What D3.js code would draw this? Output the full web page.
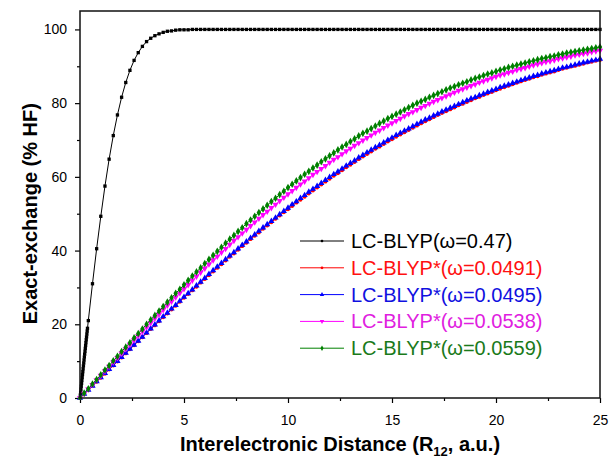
<!DOCTYPE html>
<html>
<head>
<meta charset="utf-8">
<script src="https://cdn.jsdelivr.net/npm/d3@7"></script>
<style>
  html, body { margin: 0; padding: 0; background: #fff; }
  svg { display: block; font-family: "Liberation Sans", Arial, sans-serif; }
</style>
</head>
<body>
<div id="chart"></div>
<script>
// ── Data ─────────────────────────────────────────────────────────────────
// x positions (a.u.) shared by the four LC-BLYP* curves
const xGrid = [
  0, 0.2, 0.4, 0.6, 0.8, 1, 1.2, 1.4, 1.6, 1.8,
  2, 2.2, 2.4, 2.6, 2.8, 3, 3.2, 3.4, 3.6, 3.8,
  4, 4.2, 4.4, 4.6, 4.8, 5, 5.2, 5.4, 5.6, 5.8,
  6, 6.2, 6.4, 6.6, 6.8, 7, 7.2, 7.4, 7.6, 7.8,
  8, 8.2, 8.4, 8.6, 8.8, 9, 9.2, 9.4, 9.6, 9.8,
  10, 10.2, 10.4, 10.6, 10.8, 11, 11.2, 11.4, 11.6, 11.8,
  12, 12.2, 12.4, 12.6, 12.8, 13, 13.2, 13.4, 13.6, 13.8,
  14, 14.2, 14.4, 14.6, 14.8, 15, 15.2, 15.4, 15.6, 15.8,
  16, 16.2, 16.4, 16.6, 16.8, 17, 17.2, 17.4, 17.6, 17.8,
  18, 18.2, 18.4, 18.6, 18.8, 19, 19.2, 19.4, 19.6, 19.8,
  20, 20.2, 20.4, 20.6, 20.8, 21, 21.2, 21.4, 21.6, 21.8,
  22, 22.2, 22.4, 22.6, 22.8, 23, 23.2, 23.4, 23.6, 23.8,
  24, 24.2, 24.4, 24.6, 24.8, 25,
];

// the black curve is sampled more densely near the origin
const xBlackHead = [
  0, 0.015, 0.03, 0.045, 0.06, 0.075, 0.09, 0.105, 0.12, 0.135,
  0.15, 0.165, 0.18, 0.195, 0.21, 0.225, 0.24, 0.255, 0.27, 0.285,
  0.3, 0.315, 0.33, 0.345, 0.36,
];
const xBlack = xBlackHead.concat(xGrid.slice(2));

const blackValues = [
  0, 0.8, 1.59, 2.39, 3.18, 3.98, 4.77, 5.56, 6.36, 7.15,
  7.94, 8.73, 9.52, 10.31, 11.1, 11.89, 12.67, 13.46, 14.24, 15.02,
  15.81, 16.58, 17.36, 18.14, 18.91,
  21.0, 31.0, 40.5, 49.3, 57.5, 64.8, 71.2, 76.8, 81.6, 85.6,
  88.9, 91.6, 93.7, 95.4, 96.7, 97.6, 98.3, 98.8, 99.2, 99.5,
  99.6, 99.8, 99.9, 99.9, 99.9,
  100, 100, 100, 100, 100, 100, 100, 100, 100, 100,
  100, 100, 100, 100, 100, 100, 100, 100, 100, 100,
  100, 100, 100, 100, 100, 100, 100, 100, 100, 100,
  100, 100, 100, 100, 100, 100, 100, 100, 100, 100,
  100, 100, 100, 100, 100, 100, 100, 100, 100, 100,
  100, 100, 100, 100, 100, 100, 100, 100, 100, 100,
  100, 100, 100, 100, 100, 100, 100, 100, 100, 100,
  100, 100, 100, 100, 100, 100, 100, 100, 100, 100,
  100, 100, 100, 100, 100, 100, 100, 100, 100, 100,
  100, 100, 100, 100, 100, 100, 100, 100, 100,
];

const redValues = [
  0, 1.1, 2.2, 3.3, 4.4, 5.5, 6.6, 7.7, 8.8, 9.9,
  11.0, 12.1, 13.2, 14.3, 15.4, 16.5, 17.6, 18.7, 19.7, 20.8,
  21.9, 22.9, 24.0, 25.0, 26.1, 27.2, 28.2, 29.2, 30.2, 31.3,
  32.3, 33.3, 34.3, 35.3, 36.3, 37.3, 38.3, 39.2, 40.2, 41.2,
  42.1, 43.1, 44.0, 44.9, 45.9, 46.8, 47.7, 48.6, 49.5, 50.4,
  51.2, 52.1, 53.0, 53.8, 54.6, 55.5, 56.3, 57.1, 57.9, 58.7,
  59.5, 60.3, 61.0, 61.8, 62.6, 63.3, 64.0, 64.8, 65.5, 66.2,
  66.9, 67.6, 68.2, 68.9, 69.6, 70.2, 70.9, 71.5, 72.1, 72.7,
  73.3, 73.9, 74.5, 75.1, 75.6, 76.2, 76.8, 77.3, 77.8, 78.3,
  78.8, 79.4, 79.8, 80.3, 80.8, 81.3, 81.7, 82.2, 82.6, 83.0,
  83.5, 83.9, 84.3, 84.7, 85.1, 85.5, 85.9, 86.3, 86.6, 87.0,
  87.3, 87.7, 88.0, 88.3, 88.6, 89.0, 89.3, 89.6, 89.9, 90.1,
  90.4, 90.7, 91.0, 91.2, 91.5, 91.7,
];

const blueValues = [
  0, 1.1, 2.2, 3.3, 4.5, 5.6, 6.7, 7.8, 8.9, 10.0,
  11.1, 12.2, 13.3, 14.4, 15.5, 16.6, 17.7, 18.8, 19.9, 21.0,
  22.1, 23.1, 24.2, 25.2, 26.3, 27.4, 28.4, 29.4, 30.5, 31.5,
  32.5, 33.6, 34.6, 35.6, 36.6, 37.6, 38.6, 39.5, 40.5, 41.5,
  42.4, 43.4, 44.3, 45.3, 46.2, 47.1, 48.0, 48.9, 49.8, 50.7,
  51.6, 52.5, 53.3, 54.2, 55.0, 55.9, 56.7, 57.5, 58.3, 59.1,
  59.9, 60.7, 61.4, 62.2, 63.0, 63.7, 64.4, 65.2, 65.9, 66.6,
  67.3, 68.0, 68.6, 69.3, 70.0, 70.6, 71.3, 71.9, 72.5, 73.1,
  73.7, 74.3, 74.9, 75.5, 76.0, 76.6, 77.1, 77.7, 78.2, 78.7,
  79.2, 79.7, 80.2, 80.7, 81.2, 81.6, 82.1, 82.5, 83.0, 83.4,
  83.8, 84.3, 84.7, 85.0, 85.4, 85.8, 86.2, 86.6, 86.9, 87.3,
  87.6, 88.0, 88.3, 88.6, 88.9, 89.2, 89.6, 89.8, 90.1, 90.4,
  90.7, 91.0, 91.2, 91.5, 91.7, 92.0,
];

const magentaValues = [
  0, 1.2, 2.4, 3.6, 4.9, 6.1, 7.3, 8.5, 9.7, 10.9,
  12.1, 13.3, 14.5, 15.7, 16.9, 18.0, 19.2, 20.4, 21.6, 22.7,
  23.9, 25.1, 26.2, 27.4, 28.5, 29.6, 30.7, 31.9, 33.0, 34.1,
  35.2, 36.3, 37.4, 38.4, 39.5, 40.5, 41.6, 42.7, 43.7, 44.7,
  45.7, 46.7, 47.7, 48.7, 49.7, 50.6, 51.6, 52.5, 53.5, 54.4,
  55.3, 56.2, 57.1, 58.0, 58.8, 59.7, 60.6, 61.4, 62.2, 63.0,
  63.9, 64.7, 65.4, 66.2, 67.0, 67.7, 68.5, 69.2, 69.9, 70.6,
  71.3, 72.0, 72.6, 73.3, 74.0, 74.6, 75.2, 75.8, 76.5, 77.1,
  77.6, 78.2, 78.8, 79.3, 79.9, 80.4, 80.9, 81.4, 81.9, 82.4,
  82.9, 83.4, 83.8, 84.3, 84.7, 85.1, 85.6, 86.0, 86.4, 86.8,
  87.2, 87.6, 87.9, 88.3, 88.6, 89.0, 89.3, 89.6, 90.0, 90.3,
  90.6, 90.9, 91.2, 91.4, 91.7, 92.0, 92.2, 92.5, 92.7, 93.0,
  93.2, 93.4, 93.6, 93.9, 94.1, 94.3,
];

const greenValues = [
  0, 1.3, 2.5, 3.8, 5.0, 6.3, 7.6, 8.8, 10.1, 11.3,
  12.6, 13.8, 15.0, 16.3, 17.5, 18.7, 20.0, 21.2, 22.4, 23.6,
  24.8, 26.0, 27.2, 28.4, 29.5, 30.7, 31.9, 33.1, 34.2, 35.3,
  36.5, 37.6, 38.7, 39.8, 40.9, 42.0, 43.1, 44.1, 45.2, 46.2,
  47.3, 48.3, 49.3, 50.3, 51.3, 52.3, 53.3, 54.2, 55.2, 56.1,
  57.1, 58.0, 58.9, 59.8, 60.7, 61.5, 62.4, 63.2, 64.1, 64.9,
  65.7, 66.5, 67.3, 68.1, 68.8, 69.6, 70.3, 71.1, 71.8, 72.4,
  73.1, 73.8, 74.5, 75.1, 75.8, 76.4, 77.0, 77.6, 78.2, 78.8,
  79.4, 80.0, 80.5, 81.0, 81.6, 82.1, 82.6, 83.1, 83.6, 84.1,
  84.5, 85.0, 85.4, 85.8, 86.3, 86.7, 87.1, 87.5, 87.9, 88.2,
  88.6, 89.0, 89.3, 89.7, 90.0, 90.3, 90.6, 90.9, 91.2, 91.5,
  91.8, 92.1, 92.3, 92.6, 92.8, 93.1, 93.3, 93.6, 93.8, 94.0,
  94.2, 94.4, 94.6, 94.8, 95.0, 95.2,
];

const seriesLabels = [
  "LC-BLYP(\u03C9=0.47)",
  "LC-BLYP*(\u03C9=0.0491)",
  "LC-BLYP*(\u03C9=0.0495)",
  "LC-BLYP*(\u03C9=0.0538)",
  "LC-BLYP*(\u03C9=0.0559)",
];

const xMajorTicks = [0, 5, 10, 15, 20, 25];
const xMinorTicks = [2.5, 7.5, 12.5, 17.5, 22.5];
const yMajorTicks = [0, 20, 40, 60, 80, 100];
const yMinorTicks = [10, 30, 50, 70, 90];

// ── Series setup ─────────────────────────────────────────────────────────
const series = [
  { label: seriesLabels[0], xs: xBlack, ys: blackValues, color: "#000000", text: "#000000", symbol: d3.symbolSquare, size: 11, rot: 0 },
  { label: seriesLabels[1], xs: xGrid, ys: redValues, color: "#ff0000", text: "#ff1010", symbol: d3.symbolCircle, size: 12, rot: 0 },
  { label: seriesLabels[2], xs: xGrid, ys: blueValues, color: "#0000ff", text: "#1010e0", symbol: d3.symbolTriangle, size: 17, rot: 0 },
  { label: seriesLabels[3], xs: xGrid, ys: magentaValues, color: "#ff00ff", text: "#e020e0", symbol: d3.symbolTriangle, size: 17, rot: 180 },
  { label: seriesLabels[4], xs: xGrid, ys: greenValues, color: "#008000", text: "#1a7a1a", symbol: d3.symbolDiamond, size: 17, rot: 0 },
];

// ── Dimensions ───────────────────────────────────────────────────────────
const W = 609, H = 463;
const margin = { top: 11, right: 9, bottom: 65, left: 80 };
const width = W - margin.left - margin.right;
const height = H - margin.top - margin.bottom;

const svg = d3.select("#chart").append("svg").attr("width", W).attr("height", H);
const g = svg.append("g").attr("transform", `translate(${margin.left},${margin.top})`);

// ── Scales ───────────────────────────────────────────────────────────────
const xScale = d3.scaleLinear().domain([0, 25]).range([0, width]);
const yScale = d3.scaleLinear().domain([0, 105]).range([height, 0]);

// ── Axes ─────────────────────────────────────────────────────────────────
function styleAxis(sel) {
  sel.select(".domain").remove();
  sel.selectAll(".tick line").attr("stroke", "#000").attr("stroke-width", 1.2);
  sel.selectAll(".tick text").attr("fill", "#000").style("font-size", "14px")
    .style("font-family", '"Liberation Sans", Arial, sans-serif');
}

g.append("g").attr("transform", `translate(0,${height})`)
  .call(d3.axisBottom(xScale).tickValues(xMajorTicks).tickSize(5).tickPadding(12).tickFormat(d3.format("d")))
  .call(styleAxis);
g.append("g").attr("transform", `translate(0,${height})`)
  .call(d3.axisBottom(xScale).tickValues(xMinorTicks).tickSize(3).tickFormat(""))
  .call(styleAxis);
g.append("g")
  .call(d3.axisLeft(yScale).tickValues(yMajorTicks).tickSize(5).tickPadding(8).tickFormat(d3.format("d")))
  .call(styleAxis);
g.append("g")
  .call(d3.axisLeft(yScale).tickValues(yMinorTicks).tickSize(3).tickFormat(""))
  .call(styleAxis);

// ── Curves ───────────────────────────────────────────────────────────────
svg.append("clipPath").attr("id", "plot-clip").append("rect")
  .attr("x", -4).attr("y", -2).attr("width", width + 8).attr("height", height + 4);

const plot = g.append("g").attr("clip-path", "url(#plot-clip)");

series.forEach((s) => {
  const pts = s.xs.map((xv, i) => [xv, s.ys[i]]);
  plot.append("path")
    .datum(pts)
    .attr("fill", "none")
    .attr("stroke", s.color)
    .attr("stroke-width", 1)
    .attr("d", d3.line().x((d) => xScale(d[0])).y((d) => yScale(d[1])));

  plot.selectAll(null)
    .data(pts)
    .join("path")
    .attr("transform", (d) => `translate(${xScale(d[0])},${yScale(d[1])}) rotate(${s.rot})`)
    .attr("d", d3.symbol().type(s.symbol).size(s.size))
    .attr("fill", s.color);
});

// ── Frame ────────────────────────────────────────────────────────────────
g.append("rect")
  .attr("x", 0).attr("y", 0).attr("width", width).attr("height", height)
  .attr("fill", "none").attr("stroke", "#111").attr("stroke-width", 1.5);

// ── Legend ───────────────────────────────────────────────────────────────
const legend = svg.append("g").attr("transform", "translate(300,241)");
series.forEach((s, i) => {
  const row = legend.append("g").attr("transform", `translate(0,${i * 26.8})`);
  row.append("line").attr("x1", 0).attr("x2", 44)
    .attr("stroke", s.color).attr("stroke-width", 1);
  row.append("path")
    .attr("transform", `translate(22,0) rotate(${s.rot})`)
    .attr("d", d3.symbol().type(s.symbol).size(s.size * 0.5))
    .attr("fill", s.color);
  row.append("text")
    .attr("x", 51).attr("y", 7)
    .style("font-size", "20px")
    .attr("fill", s.text)
    .text(s.label);
});

// ── Axis titles ──────────────────────────────────────────────────────────
const xTitle = svg.append("text")
  .attr("x", margin.left + width / 2)
  .attr("y", 451)
  .attr("text-anchor", "middle")
  .style("font-size", "20px")
  .style("font-weight", "bold");
xTitle.append("tspan").text("Interelectronic Distance (R");
xTitle.append("tspan").attr("dy", 5).style("font-size", "13px").text("12");
xTitle.append("tspan").attr("dy", -5).text(", a.u.)");

svg.append("text")
  .attr("transform", `translate(37,${margin.top + yScale(50)}) rotate(-90)`)
  .attr("text-anchor", "middle")
  .style("font-size", "20px")
  .style("font-weight", "bold")
  .text("Exact-exchange (% HF)");
</script>
</body>
</html>
